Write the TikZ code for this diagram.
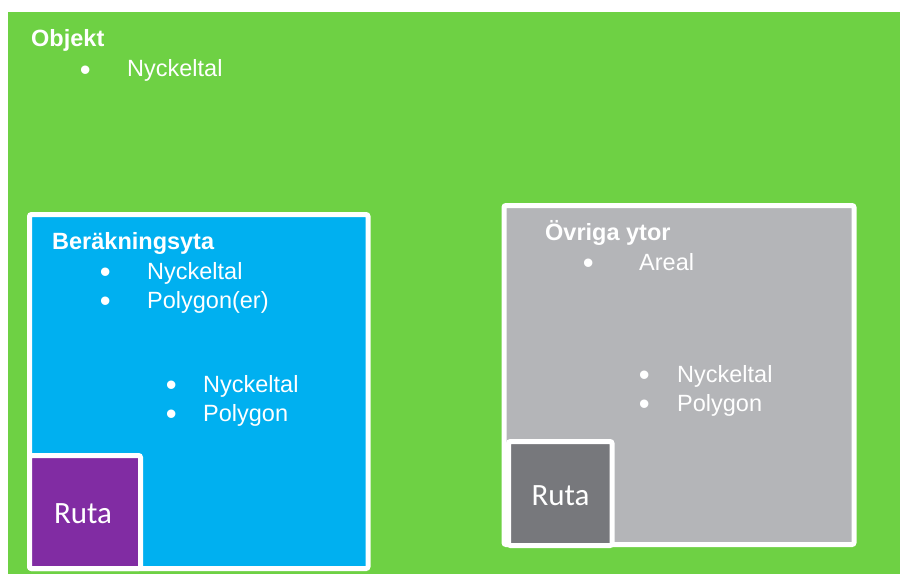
\documentclass[tikz,border=0pt]{standalone}
\usepackage{fontspec}
\setmainfont{Liberation Sans}
\newfontfamily\rutafont{Carlito}
\definecolor{bggreen}{RGB}{110,209,68}
\definecolor{calcblue}{RGB}{0,176,240}
\definecolor{rutapurple}{RGB}{129,44,163}
\definecolor{othergrey}{RGB}{180,181,184}
\definecolor{rutagrey}{RGB}{119,120,124}
\begin{document}
\begin{tikzpicture}[x=1pt,y=-1pt,
  area/.style={draw=white,line width=5pt,rounded corners=2pt},
  head/.style={anchor=base west,inner sep=0pt,text=white,font=\fontsize{23.5}{28}\selectfont\bfseries},
  item/.style={anchor=base west,inner sep=0pt,text=white,font=\fontsize{23.5}{28}\selectfont},
  bul/.style={anchor=base west,inner sep=0pt,text=white,font=\fontsize{31}{36}\selectfont,xshift=-5.4pt,yshift=-11pt},
  rutatext/.style={anchor=base,inner sep=0pt,text=white,font=\rutafont\fontsize{31}{36}\selectfont}]
\useasboundingbox (0,0) rectangle (900,574);
\fill[white] (0,0) rectangle (900,574);
\fill[bggreen] (8,12) rectangle (900,574);
% Beräkningsyta
\coordinate (calcNW) at (29.5,214.5);
\coordinate (calcSE) at (368,568.5);
\filldraw[area,fill=calcblue] (calcNW) rectangle (calcSE);
\coordinate (r1NW) at (29.5,455.5);
\coordinate (r1SE) at (140.5,568.5);
\filldraw[area,fill=rutapurple] (r1NW) rectangle (r1SE);
\node[rutatext] (ruta1) at (83,523) {Ruta};
% Övriga ytor
\coordinate (othNW) at (504,205.5);
\coordinate (othSE) at (854,544.5);
\filldraw[area,fill=othergrey] (othNW) rectangle (othSE);
\coordinate (r2NW) at (508.5,441.5);
\coordinate (r2SE) at (612,545.5);
\filldraw[area,fill=rutagrey] (r2NW) rectangle (r2SE);
\node[rutatext] (ruta2) at (560.5,505) {Ruta};
% Objekt texts
\node[head] (objekt) at (31,46) {Objekt};
\node[bul] (b0) at (85,69) {•};
\node[item] (t0) at (127,76) {Nyckeltal};
% Beräkningsyta texts
\node[head] (berak) at (52,249) {Beräkningsyta};
\node[bul] (b1) at (105,271.5) {•};
\node[item] (t1) at (147,279) {Nyckeltal};
\node[bul] (b2) at (105,300.5) {•};
\node[item] (t2) at (147,308) {Polygon(er)};
\node[bul] (b3) at (171,384.3) {•};
\node[item] (t3) at (203,392) {Nyckeltal};
\node[bul] (b4) at (171,413.5) {•};
\node[item] (t4) at (203,421) {Polygon};
% Övriga ytor texts
\node[head] (ovriga) at (545,240) {Övriga ytor};
\node[bul] (b5) at (588,262) {•};
\node[item] (t5) at (639,270) {Areal};
\node[bul] (b6) at (644,374) {•};
\node[item] (t6) at (677,382) {Nyckeltal};
\node[bul] (b7) at (644,403) {•};
\node[item] (t7) at (677,411) {Polygon};
\end{tikzpicture}
\end{document}
